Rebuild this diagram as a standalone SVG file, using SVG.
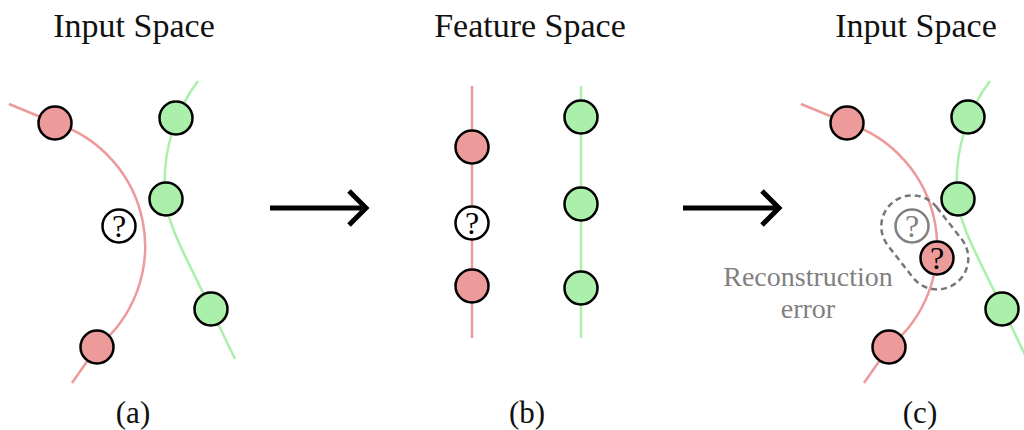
<svg xmlns="http://www.w3.org/2000/svg" width="1024" height="430" viewBox="0 0 1024 430">
<style>
.t{font-family:"Liberation Serif","Times New Roman",serif;fill:#111;text-anchor:middle}
.ttl{font-size:34px}
.lbl{font-size:31px}
.rl{fill:none;stroke:#ED9A9A;stroke-width:2.5}
.gl{fill:none;stroke:#AAF0AA;stroke-width:2.5}
.r{fill:#ED9A9A;stroke:#000;stroke-width:2.5}
.g{fill:#AAF0AA;stroke:#000;stroke-width:2.5}
.q{fill:#fff;stroke:#000;stroke-width:2.5}
.qg{fill:#fff;stroke:#808080;stroke-width:2.5}
.qt{font-family:"Liberation Serif","Times New Roman",serif;font-size:32px;text-anchor:middle;fill:#000}
.arr{fill:none;stroke:#000;stroke-width:5;stroke-linecap:butt;stroke-linejoin:miter}
</style>
<rect width="1024" height="430" fill="#fff"/>
<g id="titles">
<text class="t ttl" x="134" y="37">Input Space</text>
<text class="t ttl" x="530" y="37">Feature Space</text>
<text class="t ttl" x="916" y="37">Input Space</text>
</g>
<g id="labels">
<text class="t lbl" x="133" y="423">(a)</text>
<text class="t lbl" x="527" y="423">(b)</text>
<text class="t lbl" x="920" y="423">(c)</text>
</g>
<g id="connectors">
<path class="rl" d="M9,104 L55,123 A129.4,129.4 0 0 1 97,347 L72,383"/>
<path class="gl" d="M198,81 C176,110 162,150 165,195 C167,225 185,255 211,309 L235,359"/>
<line class="rl" x1="472" y1="86" x2="472" y2="338"/>
<line class="gl" x1="581" y1="86" x2="581" y2="338"/>
<path class="rl" d="M801,104 L847,123 A129.4,129.4 0 0 1 889,347 L864,383"/>
<path class="gl" d="M990,81 C968,110 954,150 957,195 C959,225 977,255 1003,309 L1027,359"/>
<path class="arr" d="M270,208 H366 M349,191 L366,208 L349,225"/>
<path class="arr" d="M683,208 H779 M762,191 L779,208 L762,225"/>
</g>
<g id="error-region">
<rect x="873.7" y="211" width="102.6" height="62" rx="31" ry="31" transform="rotate(52 924.5 242)" fill="none" stroke="#777" stroke-width="2.5" stroke-dasharray="6 4"/>
</g>
<g id="a-nodes">
<g id="a-r1"><circle class="r" cx="55" cy="123" r="16.5"/></g>
<g id="a-r2"><circle class="r" cx="97" cy="347" r="16.5"/></g>
<g id="a-g1"><circle class="g" cx="176" cy="118" r="16.5"/></g>
<g id="a-g2"><circle class="g" cx="166" cy="199" r="16.5"/></g>
<g id="a-g3"><circle class="g" cx="211" cy="309" r="16.5"/></g>
<g id="a-q"><circle class="q" cx="119" cy="226" r="16.5"/><text class="qt" x="119" y="237">?</text></g>
</g>
<g id="b-nodes">
<g id="b-r1"><circle class="r" cx="472" cy="147" r="16.5"/></g>
<g id="b-q"><circle class="q" cx="472" cy="223" r="16.5"/><text class="qt" x="472" y="234">?</text></g>
<g id="b-r2"><circle class="r" cx="472" cy="286" r="16.5"/></g>
<g id="b-g1"><circle class="g" cx="581" cy="117" r="16.5"/></g>
<g id="b-g2"><circle class="g" cx="581" cy="204" r="16.5"/></g>
<g id="b-g3"><circle class="g" cx="581" cy="288" r="16.5"/></g>
</g>
<g id="c-nodes">
<g id="c-r1"><circle class="r" cx="847" cy="123" r="16.5"/></g>
<g id="c-r2"><circle class="r" cx="889" cy="347" r="16.5"/></g>
<g id="c-g1"><circle class="g" cx="968" cy="117" r="16.5"/></g>
<g id="c-g2"><circle class="g" cx="958" cy="199" r="16.5"/></g>
<g id="c-g3"><circle class="g" cx="1002" cy="309" r="16.5"/></g>
<g id="c-qg"><circle class="qg" cx="912" cy="226" r="16.5"/><text class="qt" x="912" y="237" style="fill:#808080">?</text></g>
<g id="c-qr"><circle class="r" cx="937" cy="258" r="16.5"/><text class="qt" x="937" y="269">?</text></g>
</g>
<g id="error-label">
<text class="t" x="808" y="286" style="font-size:28px;fill:#808080">Reconstruction</text>
<text class="t" x="808" y="318" style="font-size:28px;fill:#808080">error</text>
</g>
</svg>
